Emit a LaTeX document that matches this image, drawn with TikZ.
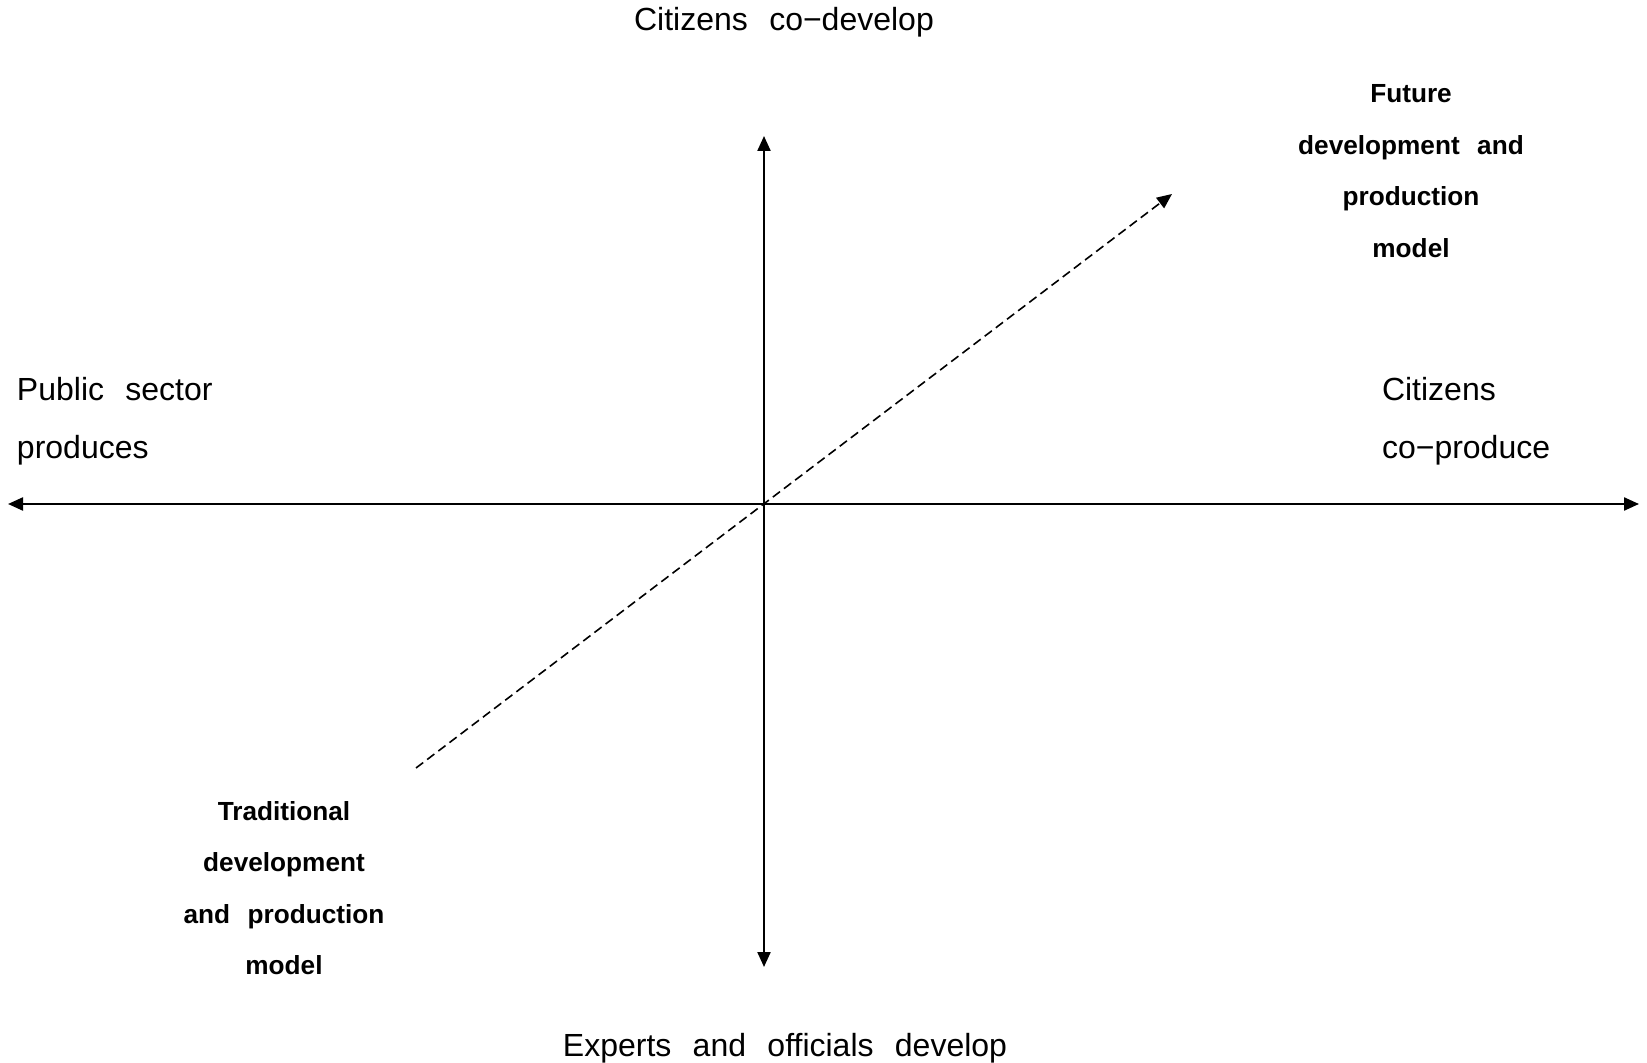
\documentclass[tikz,border=0pt]{standalone}
\usepackage{fontspec}
\setmainfont{Liberation Sans}[WordSpace=2.4]
\usepackage{tikz}
\usetikzlibrary{arrows.meta}
\tikzset{
every picture/.style={line width=1pt, >={Triangle[length=7.5pt,width=6.5pt]}},
%%%%%%%%%%  Node styles
emptynode/.style={circle,minimum size=0pt, inner sep=0pt, outer sep=0},
axislabel/.style={font=\fontsize{16}{29}\selectfont, inner sep=0pt},
modellabel/.style={font=\fontsize{13.1}{25.75}\selectfont\bfseries, align=center,
                   inner sep=0pt},
%%%% different line styles:
axis/.style={<->, line width=1.1pt},
shiftarrow/.style={->, line width=0.8pt, dash pattern=on 4.5pt off 2.5pt}
}

\begin{document}
\begin{tikzpicture}[x=0.5pt,y=-0.5pt]
\useasboundingbox (0,0) rectangle (1647,1063);
%%axis end points
\node[emptynode] (o) at (764,504) {};
\node[emptynode] (w) at (8,504) {};
\node[emptynode] (e) at (1639,504) {};
\node[emptynode] (n) at (764,136) {};
\node[emptynode] (s) at (764,967) {};
%%axes
\draw[axis] (w) -- (e);
\draw[axis] (s) -- (n);
%%shift from traditional to future model
\node[emptynode] (trad) at (416,768) {};
\node[emptynode] (fut) at (1172,194) {};
\draw[shiftarrow] (trad) -- (fut);
%%axis labels
\node[axislabel] (codev) at (784,22) {Citizens co−develop};
\node[axislabel] (expdev) at (785,1048) {Experts and officials develop};
\node[axislabel, anchor=west, align=left] (pub) at (16,421) {Public sector\\produces};
\node[axislabel, anchor=west, align=left] (coprod) at (1381,421) {Citizens\\co−produce};
%%model labels
\node[modellabel] (future) at (1411,171) {Future\\development and\\production\\model};
\node[modellabel] (tradl) at (284,888) {Traditional\\development\\and production\\model};
\end{tikzpicture}
\end{document}
